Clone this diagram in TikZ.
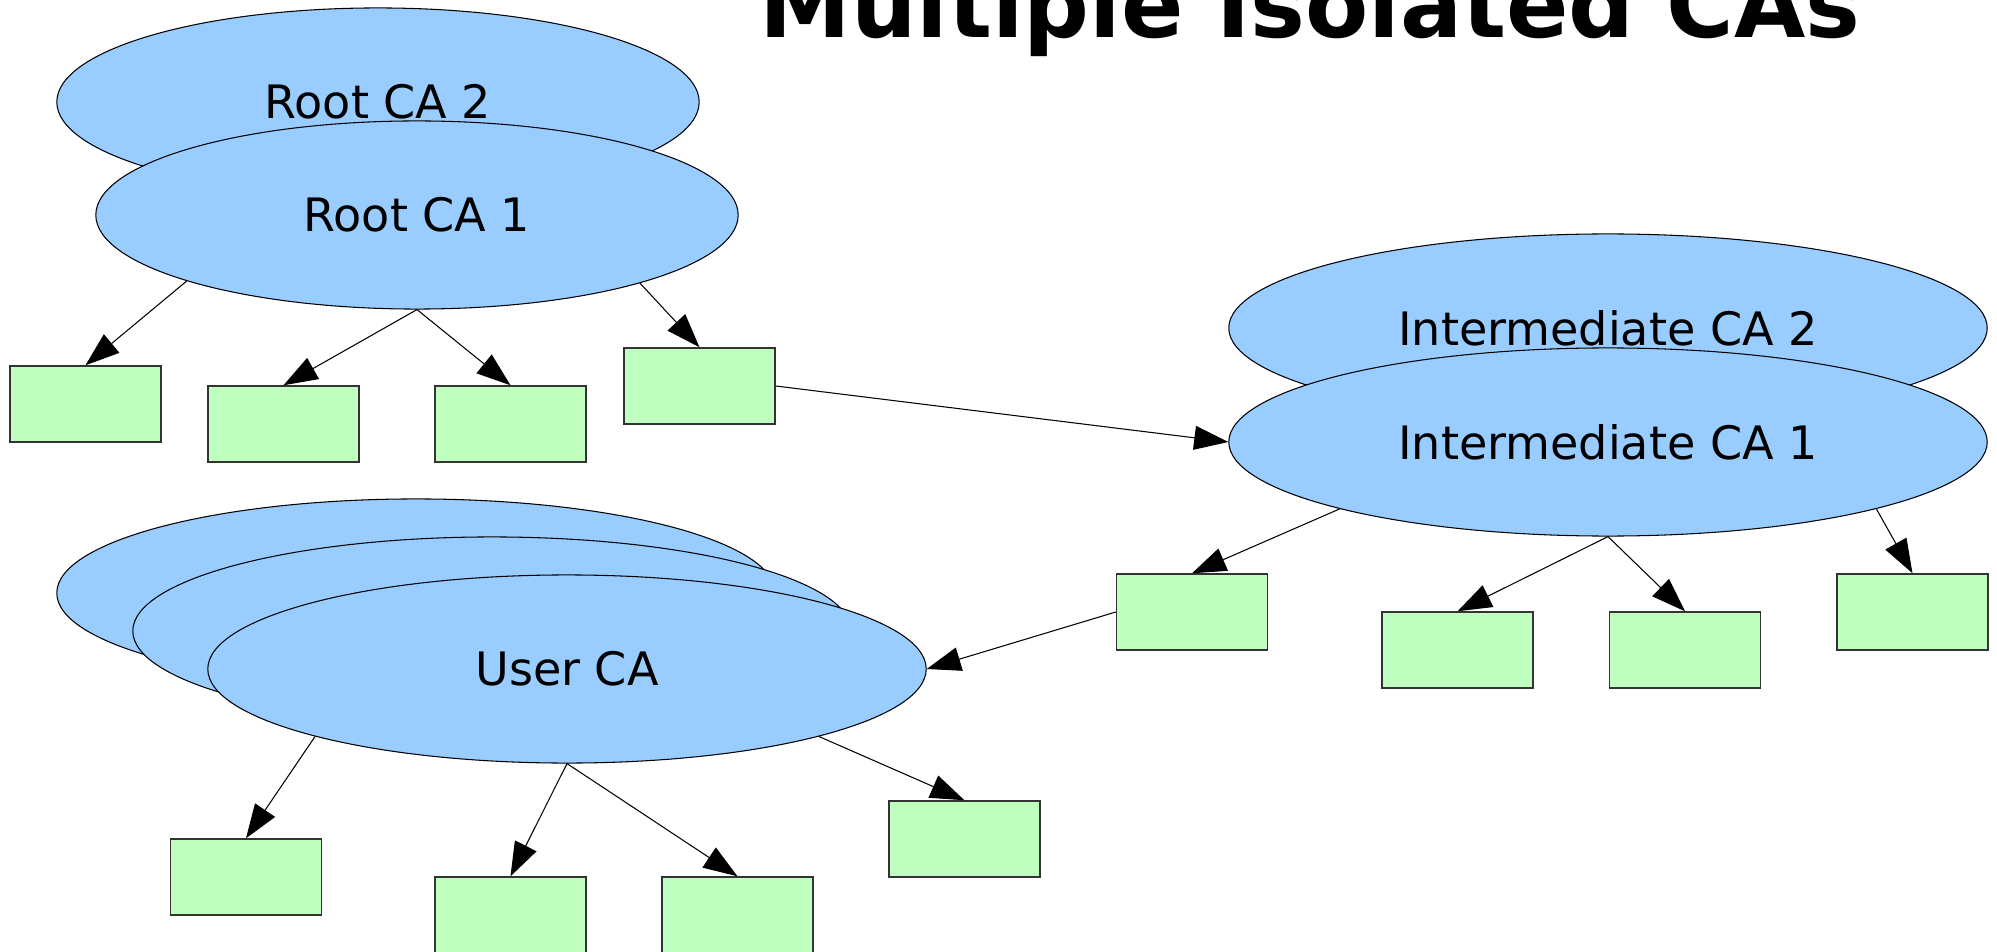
\documentclass[tikz,border=0pt]{standalone}
\usepackage{fontspec}
\setmainfont{DejaVu Sans}
\usetikzlibrary{arrows.meta,shapes.geometric}
\definecolor{cablue}{HTML}{99CCFF}
\definecolor{leafgreen}{HTML}{BFFFBF}
\definecolor{leafedge}{HTML}{333333}

\begin{document}
\begin{tikzpicture}[x=0.01cm,y=-0.01cm,
  ca/.style={ellipse, draw=black, line width=0.3pt, fill=cablue,
    minimum height=1.88cm, inner sep=0pt,
    font=\fontsize{13.1}{15}\selectfont},
  rootca/.style={ca, minimum width=6.42cm},
  userca/.style={ca, minimum width=7.18cm},
  midca/.style={ca, minimum width=7.58cm},
  leaf/.style={rectangle, draw=leafedge, line width=0.4pt, fill=leafgreen,
    minimum width=1.51cm, minimum height=0.76cm, inner sep=0pt},
  link/.style={draw=black, line width=0.3pt,
    -{Triangle[length=0.34cm, width=0.24cm]}}
]
% page area
\useasboundingbox (0,0) rectangle (1997,952);
\fill[white] (0,0) rectangle (1997,952);

% title (runs past the top edge of the page)
\node[font=\fontsize{26.2}{30}\selectfont\bfseries, anchor=base, inner sep=0pt]
  (title) at (1310,38) {Multiple Isolated CAs};

% root authorities
\node[rootca] (root2) at (378,102) {Root CA 2};
\node[rootca] (root1) at (417,215) {Root CA 1};

% intermediate authorities
\node[midca] (mid2) at (1608,328) {Intermediate CA 2};
\node[midca] (mid1) at (1608,442) {Intermediate CA 1};

% user authorities (stacked)
\node[userca] (user3) at (416,593) {};
\node[userca] (user2) at (492,631) {};
\node[userca] (user1) at (567,669) {User CA};

% certificates issued by Root CA 1
\node[leaf] (ra) at (85.5,404) {};
\node[leaf] (rb) at (283.5,424) {};
\node[leaf] (rc) at (510.5,424) {};
\node[leaf] (rd) at (699.5,386) {};

% certificates issued by Intermediate CA 1
\node[leaf] (ma) at (1192,612) {};
\node[leaf] (mb) at (1457.5,650) {};
\node[leaf] (mc) at (1685,650) {};
\node[leaf] (md) at (1912.5,612) {};

% certificates issued by User CA
\node[leaf] (ua) at (246,877) {};
\node[leaf] (ub) at (510.5,915) {};
\node[leaf] (uc) at (737.5,915) {};
\node[leaf] (ud) at (964.5,839) {};

% issuing links
\draw[link] (root1.196.5) -- (ra.north);
\draw[link] (root1.south) -- (rb.north);
\draw[link] (root1.south) -- (rc.north);
\draw[link] (root1.343.3) -- (rd.north);
\draw[link] (rd.east) -- (mid1.west);

\draw[link] (mid1.194) -- (ma.north);
\draw[link] (mid1.south) -- (mb.north);
\draw[link] (mid1.south) -- (mc.north);
\draw[link] (mid1.346.1) -- (md.north);
\draw[link] (ma.west) -- (user1.east);

\draw[link] (user1.195) -- (ua.north);
\draw[link] (user1.south) -- (ub.north);
\draw[link] (user1.south) -- (uc.north);
\draw[link] (user1.345.1) -- (ud.north);
\end{tikzpicture}
\end{document}
